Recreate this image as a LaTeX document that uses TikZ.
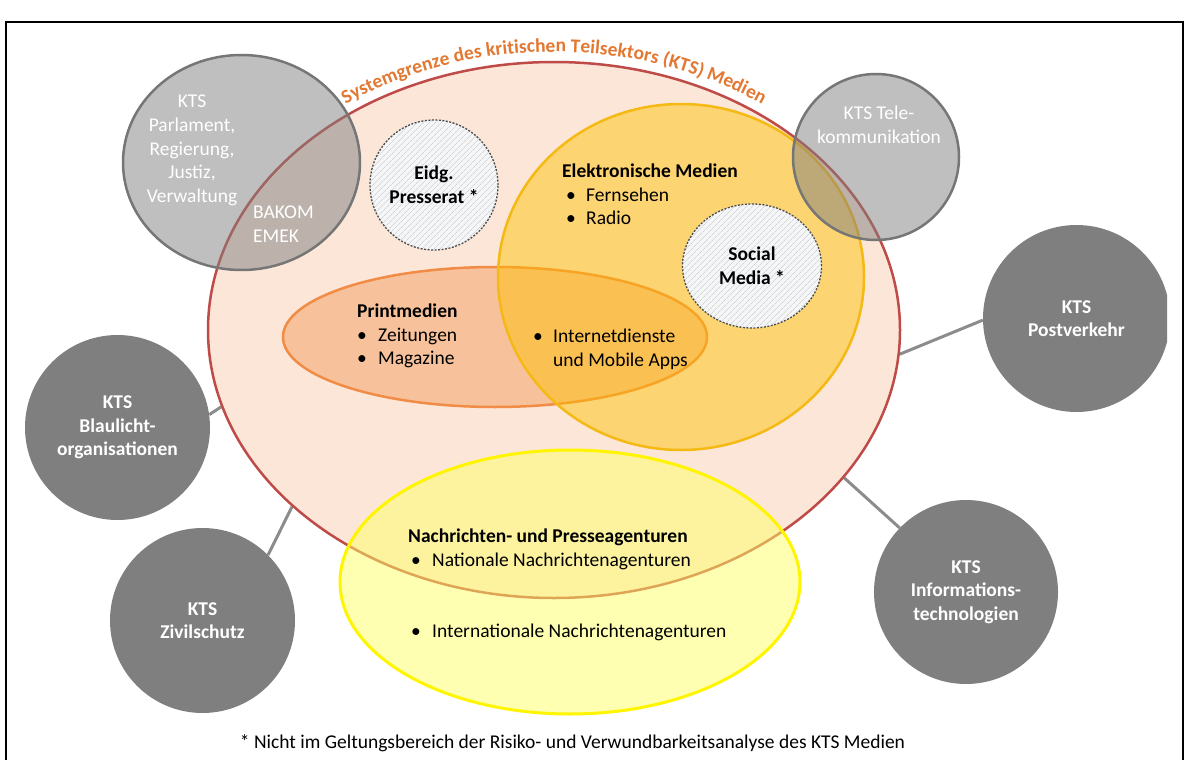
\documentclass[tikz,border=0pt]{standalone}
\usepackage{fontspec}
\setmainfont{Carlito}
\usetikzlibrary{patterns.meta,decorations.text,shapes.geometric,backgrounds}
\definecolor{peach}{RGB}{252,230,216}
\definecolor{sysred}{RGB}{190,75,72}
\definecolor{ttlorange}{RGB}{226,120,50}
\definecolor{printfill}{RGB}{246,180,130}
\definecolor{printline}{RGB}{240,140,70}
\definecolor{goldfill}{RGB}{255,192,0}
\definecolor{goldline}{RGB}{245,185,20}
\definecolor{yelfill}{RGB}{255,255,100}
\definecolor{yelline}{RGB}{255,245,0}
\definecolor{ktsgrey}{RGB}{127,127,127}
\definecolor{ringgrey}{RGB}{118,118,118}
\definecolor{linegrey}{RGB}{140,140,140}
\definecolor{hatchbg}{RGB}{244,246,248}
\newcommand\fs{\fontsize{19.5}{23.6}\selectfont}
\newcommand\ttl{\fontsize{19.5}{23.6}\selectfont\bfseries\color{ttlorange}}
\newcommand\blt[2]{\makebox[#2pt][l]{\hspace{#1pt}•}}
\tikzset{
  bigell/.style={ellipse, draw=sysred, line width=2.5pt, fill=peach, inner sep=0},
  printell/.style={ellipse, draw=printline, line width=2.5pt, fill=printfill, fill opacity=0.7, inner sep=0},
  elekell/.style={ellipse, draw=goldline, line width=2.5pt, fill=goldfill, fill opacity=0.47, inner sep=0},
  yelell/.style={ellipse, draw=yelline, line width=3pt, fill=yelfill, fill opacity=0.5, inner sep=0},
  hatch/.style={ellipse, draw=black!70, line width=1.3pt, dash pattern=on 2pt off 1.5pt,
    preaction={fill=hatchbg}, pattern={Lines[angle=45,distance=4pt,line width=0.8pt]},
    pattern color=black!17, inner sep=0, font=\fs\bfseries, align=center},
  ktslight/.style={ellipse, draw=ringgrey, line width=2.5pt, fill=ktsgrey, fill opacity=0.5, inner sep=0},
  ktsdark/.style={circle, fill=ktsgrey, inner sep=0, text=white, font=\fs\bfseries, align=center},
  txt/.style={font=\fs, inner sep=0, align=left, anchor=west, text=black},
  wtxt/.style={font=\fs, inner sep=0, align=center, text=white},
  link/.style={draw=linegrey, line width=3pt},
  frame/.style={draw=black, line width=2.5pt}
}
\begin{document}
\begin{tikzpicture}[x=1pt,y=1pt]
\useasboundingbox (0,0) rectangle (1186,-760);

% system boundary
\node[bigell, minimum width=692pt, minimum height=536pt] (sys) at (554,-330) {};
\path[decorate, decoration={text along path, text align=center,
  text={|\ttl|Systemgrenze des kritischen Teilsektors (KTS) Medien}}]
  (554,-330) ++(150:356 and 278) arc[start angle=150, end angle=30, x radius=356, y radius=278];

% media areas
\node[printell, minimum width=424pt, minimum height=140pt] (print) at (495,-337) {};
\node[elekell, minimum width=366pt, minimum height=346pt] (elek) at (681,-277) {};
\node[hatch, minimum width=128pt, minimum height=130pt] (presse) at (434,-185) {Eidg.\\Presserat *};
\node[hatch, minimum width=139pt, minimum height=124pt] (social) at (752,-266) {Social\\Media *};
\node[yelell, minimum width=460pt, minimum height=264pt] (agent) at (570,-582) {};

% neighbouring sectors overlapping
\node[ktslight, minimum width=237pt, minimum height=215pt] (parl) at (241.5,-162.5) {};
\node[ktslight, minimum width=166pt, minimum height=166pt] (tele) at (876,-157) {};

% other sectors
\node[ktsdark, minimum size=185pt] (blau) at (117.5,-427.5) {KTS\\Blaulicht-\\organisationen};
\node[ktsdark, minimum size=185pt] (zivil) at (202.5,-620.5) {KTS\\Zivilschutz};
\node[ktsdark, minimum size=184pt] (info) at (966,-592) {KTS\\Informations-\\technologien};
\begin{scope}
  \clip (0,0) rectangle (1167,-760);
  \node[ktsdark, minimum size=187pt] (post) at (1076.5,-318.5) {KTS\\Postverkehr};
\end{scope}

% texts
\node[wtxt] (parltxt) at (192,-150.5) {KTS\\Parlament,\\Regierung,\\Justiz,\\Verwaltung};
\node[wtxt, anchor=west, align=left] (bakom) at (253,-224) {BAKOM\\EMEK};
\node[wtxt] (teletxt) at (879,-125) {KTS Tele-\\kommunikation};
\node[txt] (elektxt) at (562,-194.5) {\textbf{Elektronische Medien}\\\blt{4}{24}Fernsehen\\\blt{4}{24}Radio};
\node[txt] (printtxt) at (357,-336) {\textbf{Printmedien}\\\blt{0}{21}Zeitungen\\\blt{0}{21}Magazine};
\node[txt] (nettxt) at (533,-349) {\blt{0}{20}Internetdienste\\\hspace*{20pt}und Mobile Apps};
\node[txt] (agenttxt) at (408,-549.5) {\textbf{Nachrichten- und Presseagenturen}\\\blt{3}{24}Nationale Nachrichtenagenturen};
\node[txt] (inttxt) at (408,-632) {\blt{3}{24}Internationale Nachrichtenagenturen};
\node[font=\fs, inner sep=0] (foot) at (572.5,-743) {* Nicht im Geltungsbereich der Risiko- und Verwundbarkeitsanalyse des KTS Medien};

% connectors
\begin{scope}[on background layer]
  \draw[link] (blau.8.9) -- (sys.193.4);
  \draw[link] (zivil.45) -- (sys.214.3);
  \draw[link] (post.181) -- (sys.-4.3);
  \draw[link] (info.136.8) -- (sys.-27);
\end{scope}

% frame
\draw[frame] (6,-760) -- (6,-22) -- (1183,-22) -- (1183,-760);
\end{tikzpicture}
\end{document}
